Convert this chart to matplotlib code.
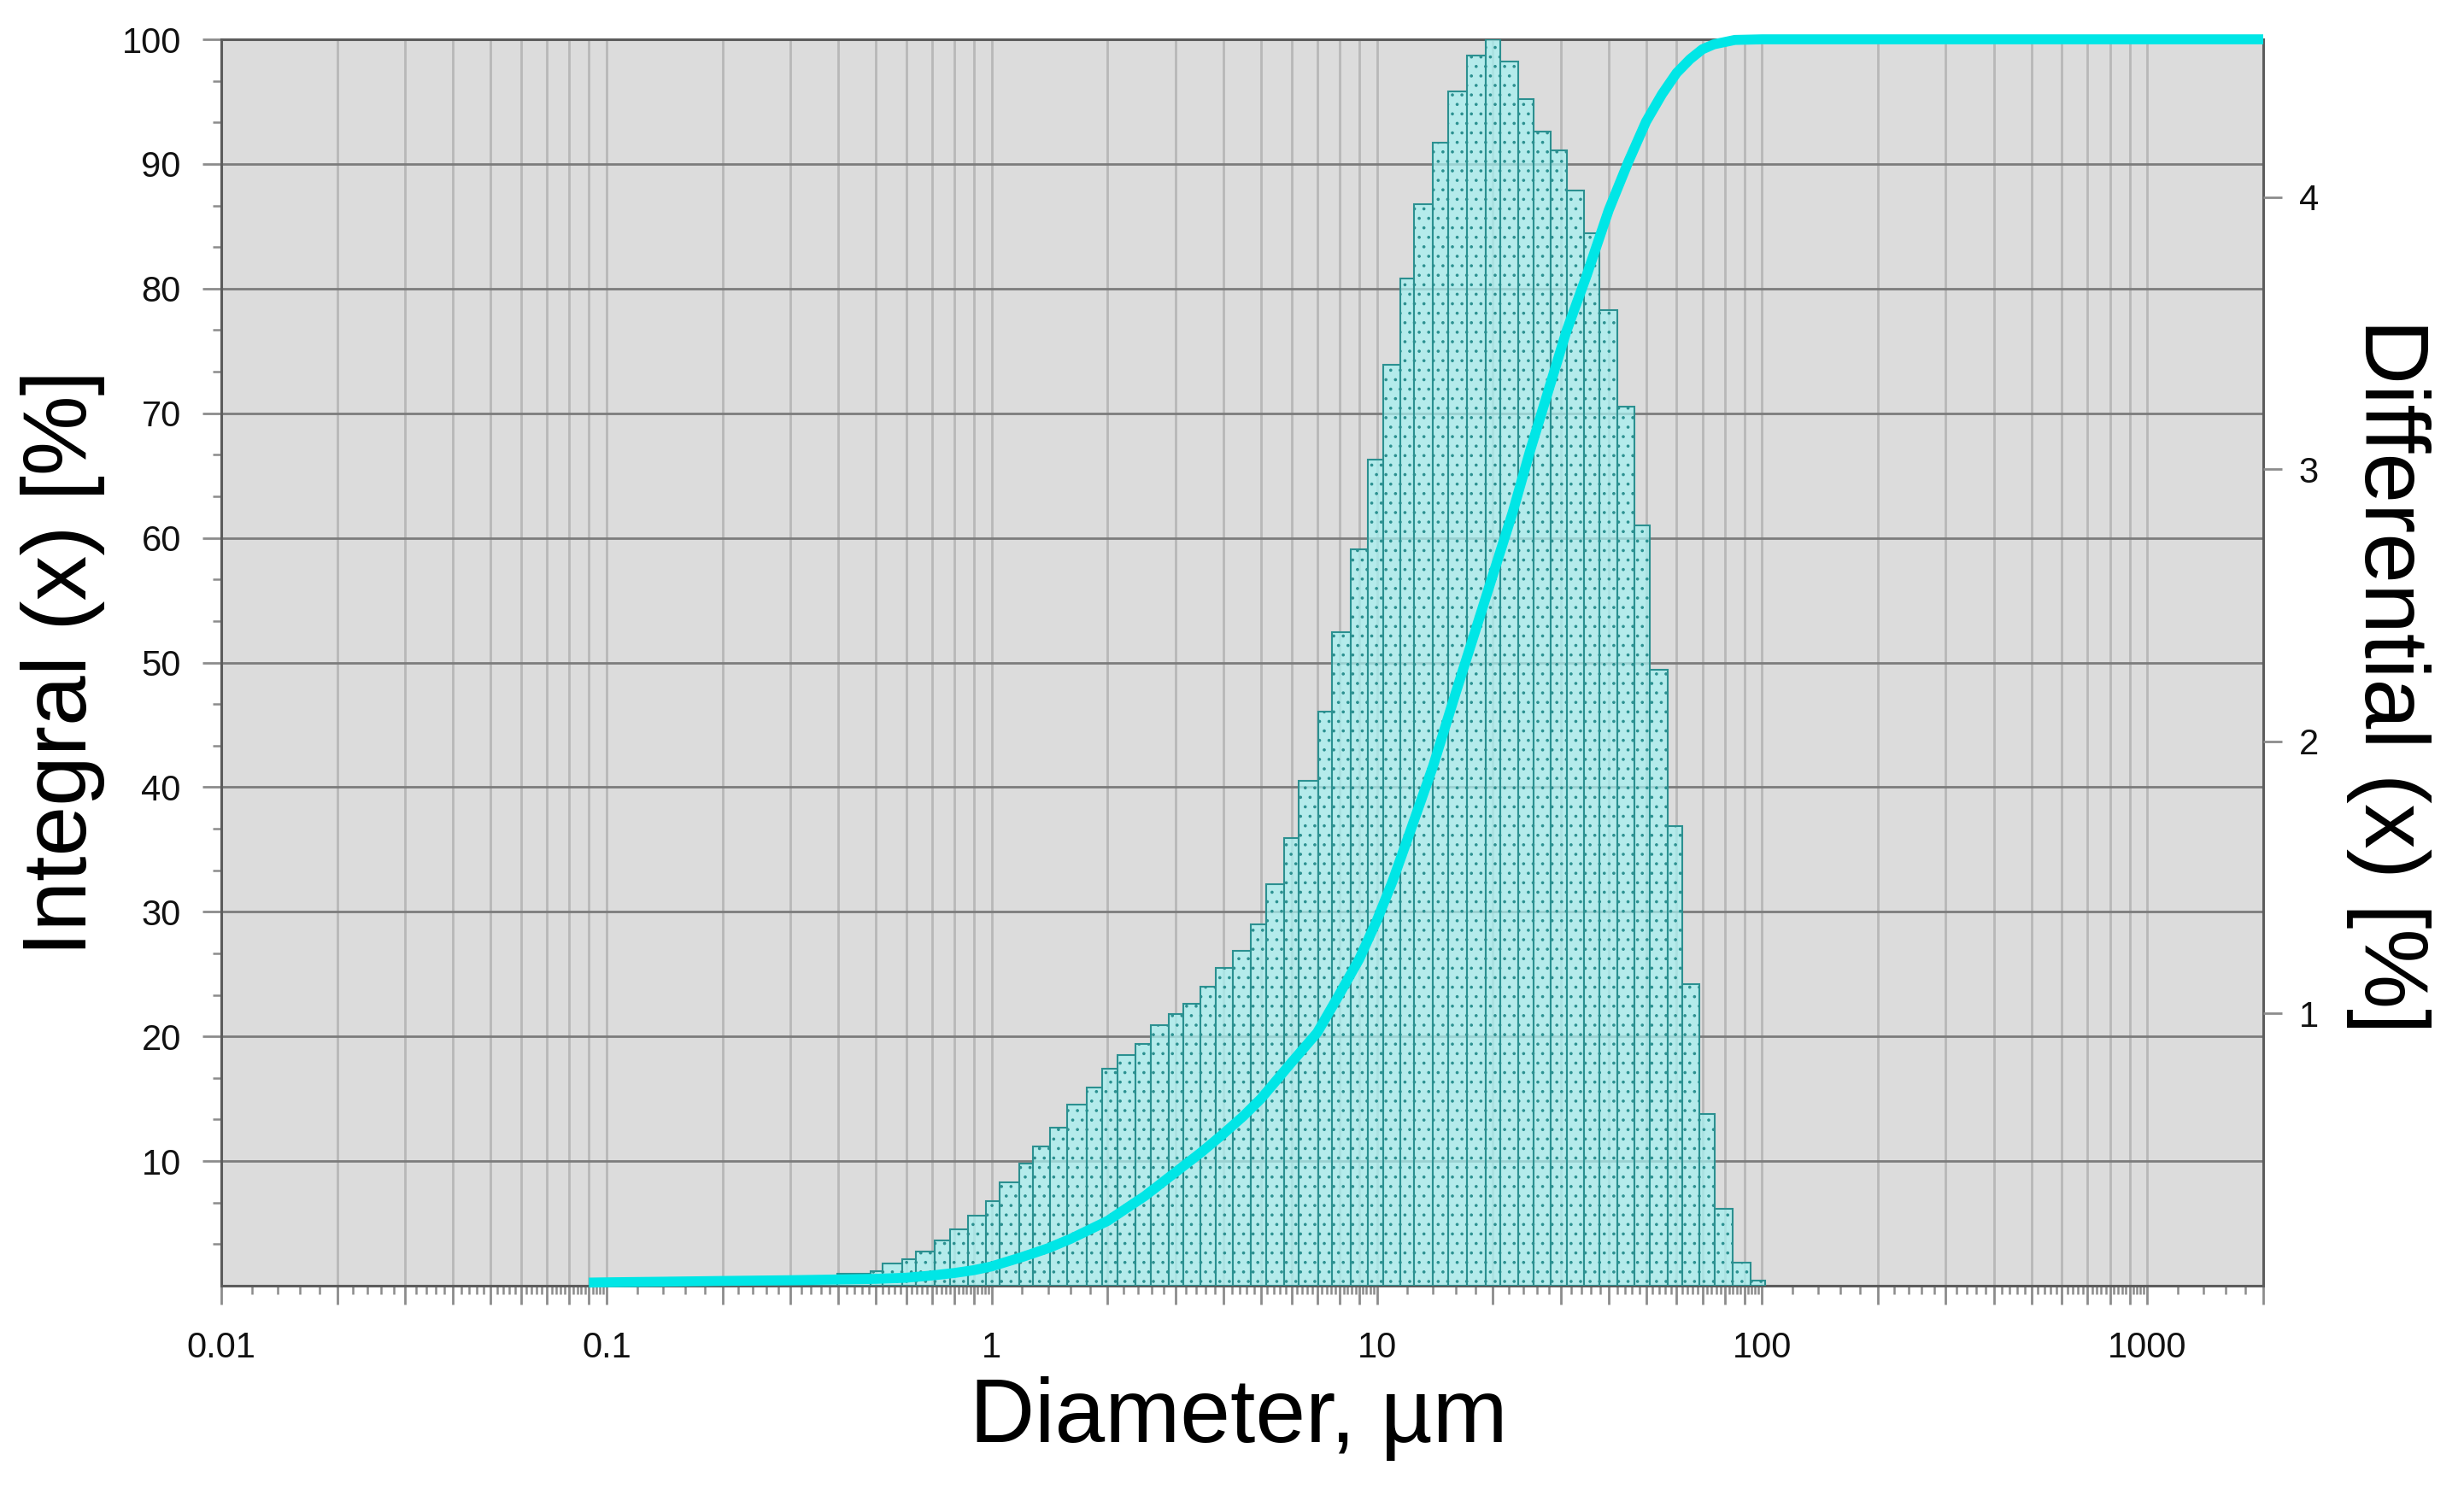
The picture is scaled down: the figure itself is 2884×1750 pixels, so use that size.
import matplotlib
matplotlib.use('Agg')
import matplotlib.pyplot as plt
from matplotlib.ticker import FixedLocator, FixedFormatter, NullFormatter

plt.rcParams['font.family'] = ['Liberation Sans', 'DejaVu Sans']
plt.rcParams['hatch.linewidth'] = 0.5

# channel edges (um) and differential values (%)
edges = [0.098, 0.145, 0.398, 0.484, 0.522, 0.587, 0.637, 0.713, 0.778, 0.866,
         0.964, 1.05, 1.18, 1.28, 1.42, 1.57, 1.77, 1.94, 2.12, 2.36,
         2.59, 2.88, 3.14, 3.48, 3.81, 4.22, 4.70, 5.15, 5.74, 6.26,
         7.04, 7.63, 8.54, 9.46, 10.4, 11.5, 12.5, 14.0, 15.3, 17.1,
         19.2, 20.9, 23.3, 25.5, 28.3, 31.1, 34.5, 37.8, 42.1, 46.6,
         51.1, 56.9, 62.0, 68.7, 75.4, 83.9, 93.4, 102.0]
diff = [0.014, 0.027, 0.044, 0.053, 0.082, 0.096, 0.126, 0.165, 0.206, 0.256,
        0.311, 0.380, 0.449, 0.513, 0.582, 0.664, 0.728, 0.797, 0.847, 0.889,
        0.957, 0.998, 1.035, 1.099, 1.168, 1.232, 1.328, 1.475, 1.644, 1.855,
        2.111, 2.400, 2.707, 3.037, 3.385, 3.701, 3.975, 4.200, 4.388, 4.520,
        4.580, 4.498, 4.360, 4.241, 4.172, 4.026, 3.866, 3.586, 3.229, 2.794,
        2.263, 1.690, 1.108, 0.632, 0.284, 0.085, 0.018]

# cumulative (integral) curve
curve_d = [0.09, 0.1, 0.15, 0.2, 0.3, 0.4, 0.5, 0.6, 0.7, 0.8, 0.9, 1.0, 1.2, 1.4,
           1.6, 2.0, 2.5, 3.0, 3.5, 4.0, 4.5, 5.0, 6.0, 7.0, 8.0, 9.0, 10.0, 11.0,
           12.0, 14.0, 16.0, 18.0, 20.0, 22.5, 25.0, 28.0, 31.0, 35.0, 40.0, 45.0,
           50.0, 55.0, 60.0, 65.0, 70.0, 75.0, 85.0, 100.0, 2000.0]
curve_v = [0.25, 0.27, 0.33, 0.38, 0.44, 0.50, 0.55, 0.64, 0.82, 1.02, 1.25, 1.55,
           2.3, 3.0, 3.75, 5.2, 7.2, 9.1, 10.7, 12.2, 13.6, 15.0, 17.9, 20.3, 23.4,
           26.2, 29.3, 32.5, 35.8, 41.7, 47.5, 52.5, 57.0, 62.0, 67.0, 72.0, 76.5,
           81.0, 86.3, 90.2, 93.4, 95.6, 97.3, 98.4, 99.2, 99.6, 99.95, 100.0, 100.0]

decade_labels = {-2: '0.01', -1: '0.1', 0: '1', 1: '10', 2: '100', 3: '1000'}
left_ticks = [10, 20, 30, 40, 50, 60, 70, 80, 90, 100]
right_ticks = [1, 2, 3, 4]

fig = plt.figure(figsize=(14.42, 8.75), dpi=200)
ax = fig.add_axes([0.0898, 0.14, 0.8287, 0.8337])
ax.set_facecolor('#dcdcdc')
ax.set_xscale('log')
ax.set_xlim(0.01, 2000)
ax.set_ylim(0, 100)

# x ticks: long ones at 1..9 x decade, short ones every 0.2 in between
major_x, minor_x, major_lab = [], [], []
for k in range(-2, 4):
    for m in range(1, 10):
        v = m * 10.0 ** k
        if v > 2000:
            continue
        major_x.append(v)
        major_lab.append(decade_labels[k] if m == 1 else '')
        ax.axvline(v, color='#b8b8b8', lw=1.0, zorder=0.5)
        for s in (0.2, 0.4, 0.6, 0.8):
            w = (m + s) * 10.0 ** k
            if w < 2000:
                minor_x.append(w)
ax.xaxis.set_major_locator(FixedLocator(major_x))
ax.xaxis.set_major_formatter(FixedFormatter(major_lab))
ax.xaxis.set_minor_locator(FixedLocator(minor_x))
ax.xaxis.set_minor_formatter(NullFormatter())

for y in left_ticks[:-1]:
    ax.axhline(y, color='#7c7c7c', lw=1.0, zorder=0.6)

ax.yaxis.set_major_locator(FixedLocator(left_ticks))
ax.yaxis.set_minor_locator(FixedLocator([y + d for y in range(0, 100, 10) for d in (10 / 3, 20 / 3)]))
ax.yaxis.set_minor_formatter(NullFormatter())
ax.tick_params(axis='both', which='major', direction='out', length=8, width=1.0,
               color='#8c8c8c', labelsize=15, labelcolor='#111111')
ax.tick_params(axis='x', which='major', pad=11)
ax.tick_params(axis='y', which='major', pad=9)
ax.tick_params(axis='both', which='minor', direction='out', length=3.5, width=0.9,
               color='#8c8c8c')
for sp in ax.spines.values():
    sp.set_color('#5c5c5c')
    sp.set_linewidth(1.1)

# differential histogram on the right axis
axd = ax.twinx()
axd.set_ylim(0, 4.58)
lefts = edges[:-1]
widths = [edges[i + 1] - edges[i] for i in range(len(diff))]
axd.bar(lefts, diff, width=widths, align='edge',
        facecolor=(165 / 255, 242 / 255, 242 / 255, 0.72),
        edgecolor='#2b9090', linewidth=0.75, hatch='...')
axd.set_yticks(right_ticks)
axd.tick_params(axis='y', direction='out', length=8, width=1.0, color='#8c8c8c',
                labelsize=15, labelcolor='#111111', pad=7)
for sp in axd.spines.values():
    sp.set_visible(False)

# integral curve on top
axi = ax.twinx()
axi.set_ylim(0, 100)
axi.set_axis_off()
axi.plot(curve_d, curve_v, color='#00e6e6', lw=4.2, solid_capstyle='butt',
         solid_joinstyle='round', clip_on=False)

fig.text(74 / 2884, 1 - 776 / 1750, 'Integral (x) [%]', rotation=90,
         ha='center', va='center', fontsize=38)
fig.text(2796 / 2884, 1 - 791 / 1750, 'Differential (x) [%]', rotation=-90,
         ha='center', va='center', fontsize=38)
fig.text(1450 / 2884, 1 - 1661 / 1750, 'Diameter, µm',
         ha='center', va='center', fontsize=38)

fig.savefig('out.png', dpi=200)
